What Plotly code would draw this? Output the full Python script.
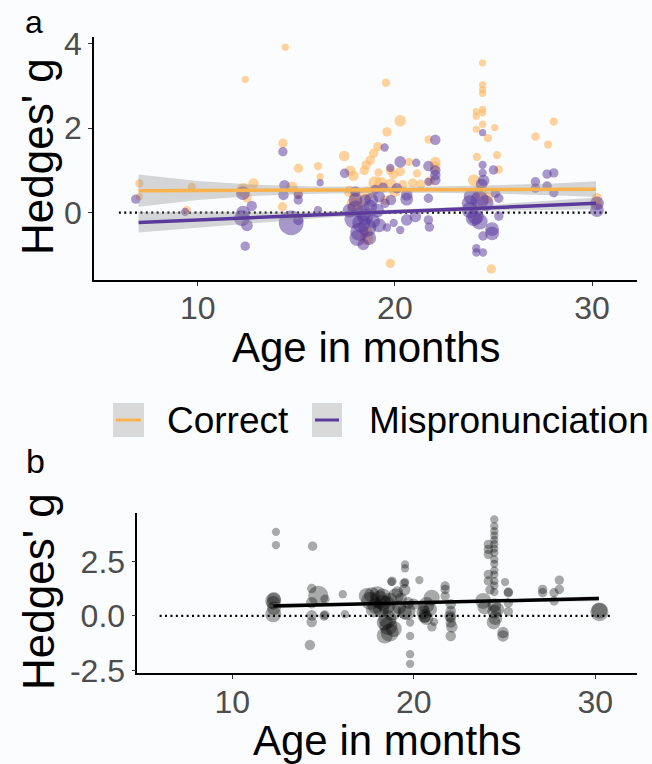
import plotly.graph_objects as go

W, H = 652, 764

# ---------------- data ----------------
# panel a: (age in months, Hedges' g, weight)
correct_pts = [
    (7.04, 0.69, 1.5), (7.04, 0.38, 1), (9.7, 0.61, 1.5), (9.45, 0.06, 1.5),
    (12.41, 3.15, 1), (12.32, 0.54, 4), (12.83, 0.69, 2.5), (12.5, 0.35, 2),
    (14.44, 3.91, 1), (14.32, 1.64, 2), (14.78, 0.6, 3), (15.1, 0.45, 2),
    (14.3, 0.14, 2), (15.11, 1.05, 2), (16.1, 1.10, 1.5), (16.21, 0.85, 1),
    (17.43, 1.34, 2.5), (17.74, 0.99, 2.5), (17.9, 0.87, 2.5), (18.45, 1.0, 2),
    (17.7, 0.5, 3), (18.0, 0.4, 3), (18.55, -0.6, 4), (18.6, -0.45, 3),
    (19.14, 1.56, 2), (18.92, 1.40, 2), (18.75, 1.24, 2), (18.55, 1.13, 2),
    (19.17, 0.95, 1.5), (19.0, 0.7, 4), (19.3, 0.68, 4), (19.6, 1.91, 2),
    (19.55, 3.07, 1.5), (19.77, 1.0, 2), (19.93, 0.9, 2), (19.8, 0.67, 3),
    (20.27, 2.17, 3), (20.27, 0.97, 2), (20.4, 0.66, 2), (20.7, 1.2, 1.5),
    (20.9, 0.7, 2), (21.12, 0.93, 1.5), (21.3, 0.67, 2), (21.71, 1.73, 1.5),
    (21.8, 0.75, 2), (22.05, 1.2, 2.5), (22.05, 1.09, 2.5), (19.77, -1.2, 2),
    (18.2, 0.2, 3), (19.5, 0.3, 2), (20.0, 0.5, 3), (17.9, 0.2, 4), (18.6, 0.45, 4),
    (24.45, 3.54, 1), (24.45, 3.02, 1), (24.45, 2.91, 1), (24.45, 2.82, 1),
    (24.45, 2.44, 1), (24.45, 2.36, 1), (24.13, 2.39, 1), (24.13, 2.28, 1),
    (24.45, 2.09, 1), (24.13, 1.97, 1), (25.06, 2.01, 1), (24.72, 1.76, 1.5),
    (24.16, 1.32, 1.5), (25.18, 1.36, 1.5), (25.27, 1.02, 1.5), (24.0, 0.77, 3),
    (24.3, 0.5, 4), (24.7, 0.35, 3), (24.89, -1.33, 2),
    (28.06, 2.15, 1.5), (27.13, 1.8, 1.5), (27.77, 1.61, 1.5),
    (30.25, 0.34, 2.5), (30.3, 0.2, 2),
]
mp_pts = [
    (6.86, 0.32, 2), (9.36, 0.02, 1.5), (12.41, -0.79, 2), (12.24, -0.13, 5),
    (12.3, 0.0, 4), (12.29, 0.46, 4), (12.5, -0.3, 3), (12.74, 0.16, 2.5),
    (14.32, 1.44, 2), (14.4, 0.65, 2.5), (14.35, 0.42, 2.5), (14.74, -0.24, 9),
    (15.1, 0.43, 2), (15.1, 0.3, 2), (15.1, -0.17, 2.5), (16.21, 0.71, 1),
    (16.1, 0.06, 1.5), (17.45, 0.93, 2), (19.48, 1.54, 1.5), (20.27, 1.2, 3),
    (21.08, 1.18, 1.5), (19.77, 1.06, 1.5), (21.7, 1.1, 2.5), (22.05, 1.0, 2.5),
    (22.05, 0.89, 2.5), (22.05, 0.77, 2.5), (22.05, 1.72, 2.5), (21.7, 0.73, 1.5),
    (21.7, 0.34, 2), (21.7, -0.17, 2), (21.75, -0.34, 2), (20.27, -0.41, 1.5),
    (19.94, -0.24, 1.5), (19.6, -0.35, 1.5), (20.6, -0.17, 3), (21.04, -0.09, 3),
    (20.6, 0.32, 3.5), (20.6, 0.42, 3), (20.1, 0.58, 2.5), (19.2, 0.38, 3),
    (19.8, 0.3, 2.5), (19.5, 0.22, 2), (18.75, 0.14, 4), (18.0, 0.1, 5),
    (18.4, 0.0, 5), (17.9, -0.15, 6), (18.3, -0.25, 6), (18.6, -0.35, 6),
    (18.2, -0.45, 6), (18.5, -0.1, 5), (17.7, 0.05, 4), (18.5, 0.3, 3),
    (18.0, 0.5, 2.5), (19.0, 0.55, 2), (19.4, 0.6, 2), (18.9, -0.2, 4),
    (19.1, 0.05, 4), (18.1, -0.6, 5), (18.7, -0.6, 4), (18.4, -0.75, 3),
    (19.2, -0.3, 4), (18.0, 0.3, 4), (18.8, 0.3, 4),
    (24.45, 1.89, 1), (24.45, 1.13, 1.5), (24.45, 0.94, 1.5), (25.0, 1.01, 2),
    (24.5, 0.76, 3), (24.4, 0.67, 3), (23.9, 0.38, 5), (24.3, 0.3, 6),
    (23.8, 0.22, 5), (24.6, 0.22, 5), (23.8, 0.06, 5), (24.1, -0.09, 5),
    (24.3, -0.21, 5), (24.0, -0.13, 5), (25.1, 0.46, 2), (25.27, 0.34, 2),
    (25.27, -0.08, 2), (24.93, -0.39, 4), (24.93, -0.49, 4), (24.47, -0.55, 2),
    (24.13, -0.84, 1.5), (24.13, -0.94, 1.5), (24.47, -0.94, 1.5),
    (27.13, 0.73, 2), (27.13, 0.58, 2), (27.72, 0.91, 2), (28.06, 0.94, 2),
    (27.72, 0.63, 2), (28.06, 0.47, 2), (30.25, 0.22, 4), (30.25, 0.06, 4),
]
# panel b: all effect sizes
all_pts = [
    (12.41, 3.87, 1.5), (12.41, 3.26, 1.5), (12.26, 0.69, 5), (12.26, 0.6, 4),
    (12.3, 0.78, 4), (12.26, 0.08, 5), (12.3, 0.35, 4), (14.43, 3.21, 2),
    (14.38, 1.26, 2), (14.74, 0.92, 7), (14.38, 0.61, 3), (15.11, 0.77, 2),
    (14.38, 0.03, 2.5), (14.38, -0.28, 2.5), (14.28, -1.34, 2.5), (15.06, 0.0, 2),
    (15.1, 0.05, 2), (16.09, 1.0, 1.5), (16.21, 0.08, 1.5),
    (17.41, 0.92, 5), (17.7, 0.95, 5), (18.0, 1.0, 5), (18.3, 0.9, 5),
    (17.9, 0.46, 5), (18.2, 0.31, 5), (18.55, -0.15, 6), (18.6, -0.46, 6),
    (18.67, -0.76, 6), (18.4, -0.3, 5), (18.3, 0.6, 5), (18.7, 0.75, 4),
    (17.6, 0.7, 6), (18.1, 0.75, 6), (18.5, 0.5, 6), (18.8, 0.2, 6),
    (18.9, -0.6, 5), (18.4, -0.9, 5), (17.8, 0.3, 5), (19.0, 0.9, 5),
    (19.2, 0.4, 4),
    (18.8, 1.6, 2), (19.47, 1.5, 2), (18.78, 1.57, 1.5), (19.1, 1.1, 3),
    (19.3, 0.8, 3), (19.5, 1.2, 3), (19.7, 0.6, 3), (19.6, 0.23, 6),
    (19.98, 0.54, 3), (19.52, 2.37, 1.5), (19.52, 2.19, 1.5), (19.52, 1.56, 1.5),
    (20.31, 1.65, 1.5), (19.8, -0.3, 1.5), (19.8, -0.92, 1.5), (19.8, -1.76, 1.5),
    (19.8, -2.2, 1.5), (19.52, 0.16, 4), (20.53, 0.16, 4), (20.53, 0.35, 3),
    (20.6, -0.05, 3), (20.99, 0.84, 5), (21.12, -0.27, 1.5),
    (20.7, 0.5, 5), (20.9, 0.3, 4), (20.6, 0.0, 4), (20.7, -0.1, 4), (21.0, -0.5, 2),
    (21.73, 1.38, 2), (21.73, 1.22, 2), (21.73, 0.92, 2),
    (22.04, 0.54, 2.5), (22.04, 0.23, 2.5), (22.04, -0.07, 2.5), (22.04, -0.3, 2.5),
    (22.04, -0.92, 2.5), (22.0, 0.0, 3), (22.1, -0.5, 3),
    (23.83, 0.69, 5), (23.9, 0.4, 4),
    (24.11, 3.29, 2), (24.11, 3.06, 2), (24.11, 2.83, 2),
    (24.44, 4.44, 1.5), (24.44, 4.13, 1.5), (24.44, 3.9, 1.5), (24.44, 3.7, 1.5),
    (24.44, 3.5, 1.5), (24.44, 3.3, 1.5), (24.44, 3.1, 1.5), (24.44, 2.9, 1.5),
    (24.44, 2.6, 1.5), (24.44, 2.4, 1.5), (24.44, 2.1, 1.5), (24.44, 1.9, 1.5),
    (24.44, 1.6, 1.5), (24.44, 1.4, 1.5), (24.44, 1.1, 1.5),
    (24.11, 1.91, 2), (24.11, 1.61, 2), (24.2, 1.2, 2),
    (24.44, 0.5, 4), (24.44, 0.2, 4), (24.5, -0.1, 4), (24.4, -0.3, 4), (24.6, 0.3, 4),
    (24.92, -0.76, 3), (24.92, -0.92, 3), (25.03, 1.56, 1.5), (25.21, 1.07, 2),
    (25.21, 1.1, 2), (25.21, 0.6, 2), (25.21, 0.2, 2),
    (27.1, 1.22, 2), (27.1, 1.07, 2), (27.73, 1.07, 2), (27.73, 0.69, 2),
    (28.02, 1.65, 2), (28.02, 1.22, 2), (30.23, 0.18, 6), (30.23, 0.25, 5),
]

# fitted lines and confidence bands
fit_age_a = [7.0, 10, 13, 16, 19, 22, 25, 28, 30.2]
correct_fit = [0.52, 0.525, 0.529, 0.534, 0.538, 0.543, 0.547, 0.552, 0.555]
correct_lo = [0.14, 0.30, 0.40, 0.45, 0.47, 0.47, 0.45, 0.41, 0.37]
correct_hi = [0.90, 0.75, 0.66, 0.62, 0.61, 0.62, 0.65, 0.69, 0.74]
mp_fit = [-0.23, -0.172, -0.114, -0.055, 0.003, 0.061, 0.119, 0.177, 0.22]
mp_lo = [-0.47, -0.36, -0.24, -0.13, -0.05, 0.01, 0.05, 0.07, 0.08]
mp_hi = [0.01, 0.02, 0.01, 0.02, 0.06, 0.11, 0.19, 0.28, 0.36]

fit_age_b = [12.26, 15, 18, 21, 24, 27, 30.2]
all_fit = [0.46, 0.512, 0.569, 0.626, 0.682, 0.739, 0.80]
all_lo = [0.34, 0.432, 0.519, 0.586, 0.632, 0.659, 0.68]
all_hi = [0.58, 0.592, 0.619, 0.666, 0.732, 0.819, 0.92]

zero_x = [6.0, 30.9]
zero_y = [0, 0]

x_ticks = [10, 20, 30]
ya_ticks = [0, 2, 4]
yb_ticks = [-2.5, 0, 2.5]
yb_ticktext = ["-2.5", "0.0", "2.5"]
legend_labels = ["Correct", "Mispronunciation"]

# ---------------- styling ----------------
FONT = "Liberation Sans, Arial, sans-serif"
ORANGE = "#F9B24E"
ORANGE_PT = "#FDB863"
PURPLE = "#5B3A9B"
BAND = "rgba(150,150,150,0.38)"
BG = "#fbfcfd"


def col(pts, i):
    return [p[i] for p in pts]


def sizes(pts):
    return [5 + 2.2 * p[2] for p in pts]


def px(x):
    return x / W


def py(y):
    return 1 - y / H


fig = go.Figure()

# zero reference lines
for xa, ya in [("x", "y"), ("x2", "y2")]:
    fig.add_trace(go.Scatter(x=zero_x, y=zero_y, mode="lines", xaxis=xa, yaxis=ya,
                             line=dict(color="black", width=2.2, dash="2px,3.4px"),
                             showlegend=False, hoverinfo="skip"))

# panel a points
fig.add_trace(go.Scatter(x=col(correct_pts, 0), y=col(correct_pts, 1), mode="markers",
                         xaxis="x", yaxis="y", name=legend_labels[0],
                         marker=dict(color=ORANGE_PT, opacity=0.62, size=sizes(correct_pts),
                                     line=dict(width=0)), showlegend=False))
fig.add_trace(go.Scatter(x=col(mp_pts, 0), y=col(mp_pts, 1), mode="markers",
                         xaxis="x", yaxis="y", name=legend_labels[1],
                         marker=dict(color=PURPLE, opacity=0.52, size=sizes(mp_pts),
                                     line=dict(width=0)), showlegend=False))

# bands
for lo, hi in [(correct_lo, correct_hi), (mp_lo, mp_hi)]:
    fig.add_trace(go.Scatter(x=fit_age_a + fit_age_a[::-1], y=hi + lo[::-1],
                             fill="toself", fillcolor=BAND, line=dict(width=0),
                             mode="lines", xaxis="x", yaxis="y", showlegend=False,
                             hoverinfo="skip"))
fig.add_trace(go.Scatter(x=fit_age_a, y=correct_fit, mode="lines", xaxis="x", yaxis="y",
                         line=dict(color=ORANGE, width=3.5), showlegend=False))
fig.add_trace(go.Scatter(x=fit_age_a, y=mp_fit, mode="lines", xaxis="x", yaxis="y",
                         line=dict(color=PURPLE, width=3.5), showlegend=False))

# panel b
fig.add_trace(go.Scatter(x=col(all_pts, 0), y=col(all_pts, 1), mode="markers",
                         xaxis="x2", yaxis="y2",
                         marker=dict(color="black", opacity=0.33, size=sizes(all_pts),
                                     line=dict(width=0)), showlegend=False))
fig.add_trace(go.Scatter(x=fit_age_b + fit_age_b[::-1], y=all_hi + all_lo[::-1],
                         fill="toself", fillcolor=BAND, line=dict(width=0),
                         mode="lines", xaxis="x2", yaxis="y2", showlegend=False,
                         hoverinfo="skip"))
fig.add_trace(go.Scatter(x=fit_age_b, y=all_fit, mode="lines", xaxis="x2", yaxis="y2",
                         line=dict(color="black", width=3.5), showlegend=False))

axis_common = dict(showline=True, linecolor="black", linewidth=1.6, ticks="outside",
                   ticklen=4, tickwidth=1.4, tickcolor="#333333", showgrid=False,
                   zeroline=False, automargin=False,
                   tickfont=dict(family=FONT, size=32, color="#4d4d4d"))

fig.update_layout(
    width=W, height=H, margin=dict(l=0, r=0, t=0, b=0),
    paper_bgcolor=BG, plot_bgcolor=BG, font=dict(family=FONT),
    xaxis=dict(domain=[px(94), px(637)], range=[4.74, 32.28], anchor="y",
               tickvals=x_ticks, ticklabelstandoff=-5, **axis_common),
    yaxis=dict(domain=[py(280), py(37)], range=[-1.59, 4.15], anchor="x",
               tickvals=ya_ticks, **axis_common),
    xaxis2=dict(domain=[px(137.3), px(637)], range=[4.77, 32.3], anchor="y2",
                tickvals=x_ticks, ticklabelstandoff=-4, **axis_common),
    yaxis2=dict(domain=[py(672.7), py(512.7)], range=[-2.61, 4.75], anchor="x2",
                tickvals=yb_ticks, ticktext=yb_ticktext, **axis_common),
)

ann = []


def text(t, x, y, size, xanchor="center", angle=0, color="black"):
    ann.append(dict(text=t, x=px(x), y=py(y), xref="paper", yref="paper",
                    showarrow=False, xanchor=xanchor, yanchor="middle",
                    textangle=angle, font=dict(family=FONT, size=size, color=color)))


text("a", 34, 22, 32)
text("b", 35, 461, 34)
text("Age in months", 366, 347, 42)
text("Age in months", 387, 740, 42)
text("Hedges' g", 38, 157, 44, angle=-90)
text("Hedges' g", 38, 592, 44, angle=-90)
text(legend_labels[0], 165, 420, 37, xanchor="left")
text(legend_labels[1], 367, 420, 37, xanchor="left")
fig.update_layout(annotations=ann)

shapes = []
for x0, x1, c in [(113, 144, ORANGE), (312, 342, PURPLE)]:
    shapes.append(dict(type="rect", xref="paper", yref="paper", x0=px(x0), x1=px(x1),
                       y0=py(437), y1=py(403), fillcolor="#d9d9d9", line=dict(width=0)))
    shapes.append(dict(type="line", xref="paper", yref="paper", x0=px(x0 + 3), x1=px(x1 - 3),
                       y0=py(420), y1=py(420), line=dict(color=c, width=3)))
fig.update_layout(shapes=shapes)

fig.write_html("out.html", config={"displayModeBar": False},
               post_script="document.body.style.margin='0';"
                           "document.body.style.overflow='hidden';")
